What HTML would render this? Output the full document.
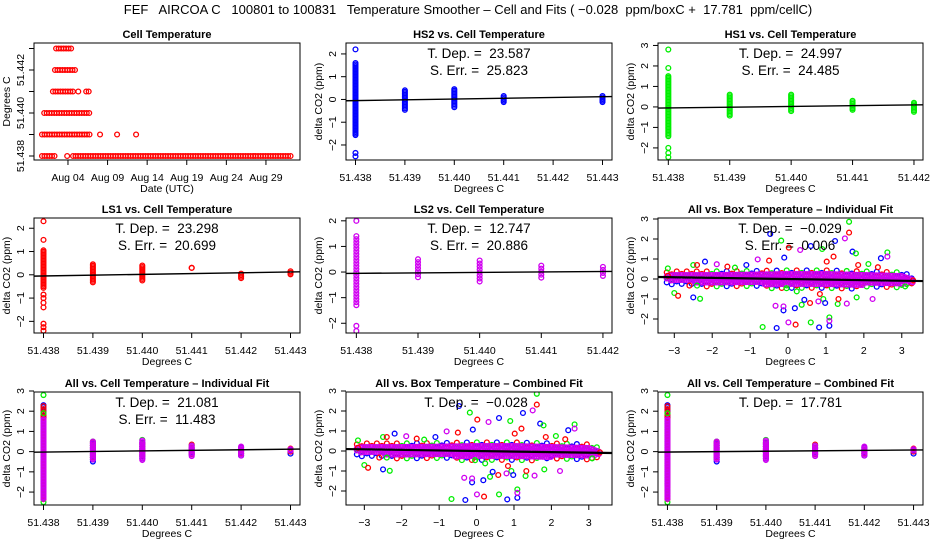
<!DOCTYPE html>
<html><head><meta charset="utf-8">
<style>
html,body{margin:0;padding:0;background:#fff;}
svg{display:block;font-family:"Liberation Sans",sans-serif;}
</style></head>
<body>
<svg id="chart" width="936" height="540" viewBox="0 0 936 540" xmlns="http://www.w3.org/2000/svg">
<rect x="0" y="0" width="936" height="540" fill="#fff"/>
<text x="468" y="14" text-anchor="middle" font-size="13" style="white-space:pre">FEF   AIRCOA C   100801 to 100831   Temperature Smoother – Cell and Fits ( −0.028  ppm/boxC +  17.781  ppm/cellC)</text>
</svg>
<script>
// ---------- DATA ----------
const cellLevels = [51.438, 51.438, 51.439, 51.440, 51.441, 51.441, 51.441, 51.442, 51.443];
const cellStart  = [-0.28, 3.64, -0.28, 0.0, 1.1, 4.3, 5.3, 1.36, 1.5];
const cellEnd    = [1.36, 31.3, 5.78, 5.9, 3.9, 4.3, 5.8, 4.0, 3.64];
const cellSingleDay = [2.9, 7.05, 9.2, 11.6];
const cellSingleVal = [51.438, 51.439, 51.439, 51.439];
const dateTickDays = [3, 8, 13, 18, 23, 28];
const dateTickLabels = ["Aug 04", "Aug 09", "Aug 14", "Aug 19", "Aug 24", "Aug 29"];

const temps6 = [51.438, 51.439, 51.440, 51.441, 51.442, 51.443];
const temps5 = [51.438, 51.439, 51.440, 51.441, 51.442];

const hs2X  = [51.438, 51.439, 51.440, 51.441, 51.443];
const hs2Lo = [-1.6, -0.5, -0.35, -0.15, -0.15];
const hs2Hi = [1.6, 0.4, 0.45, 0.15, 0.15];
const hs2OutX = [51.438, 51.438, 51.438];
const hs2OutY = [2.2, -2.35, -2.5];
const hs2Fit = [-0.05, 0.12];
const hs1X  = [51.438, 51.439, 51.440, 51.441, 51.442];
const hs1Lo = [-1.5, -0.45, -0.25, -0.15, -0.3];
const hs1Hi = [1.5, 0.6, 0.6, 0.3, 0.2];
const hs1OutX = [51.438, 51.438, 51.438, 51.438, 51.438];
const hs1OutY = [2.8, 1.9, -2.0, -2.25, -2.45];
const hs1Fit = [-0.05, 0.1];
const ls1X  = [51.438, 51.439, 51.440, 51.441, 51.442, 51.443];
const ls1Lo = [-0.6, -0.35, -0.25, 0.3, -0.15, 0.0];
const ls1Hi = [1.05, 0.45, 0.4, 0.3, 0.05, 0.15];
const ls1OutX = [51.438, 51.438, 51.438, 51.438, 51.438, 51.438, 51.438, 51.438, 51.438];
const ls1OutY = [2.3, 1.5, -0.85, -1.0, -1.2, -1.4, -2.1, -2.25, -2.4];
const ls1Fit = [-0.05, 0.12];
const ls2X  = [51.438, 51.439, 51.440, 51.441, 51.442];
const ls2Lo = [-1.35, -0.25, -0.45, -0.25, -0.25];
const ls2Hi = [1.4, 0.5, 0.45, 0.25, 0.2];
const ls2OutX = [51.438, 51.438, 51.438];
const ls2OutY = [2.0, -2.1, -2.3];
const ls2Fit = [-0.05, 0.02];
const allX  = [51.438, 51.439, 51.440, 51.441, 51.442, 51.443];
const allLo = [-2.4, -0.45, -0.45, -0.25, -0.25, 0.0];
const allHi = [1.6, 0.5, 0.55, 0.3, 0.25, 0.12];
const allBlueLo = [-1.7, -0.5, -0.4, -0.2, -0.2, -0.15];
const allBlueHi = [2.3, 0.4, 0.45, 0.15, 0.2, 0.1];
const allRedLo  = [-2.4, -0.4, -0.3, -0.15, -0.15, 0.0];
const allRedHi  = [2.25, 0.45, 0.4, 0.35, 0.05, 0.15];
const allGreenX = [51.438, 51.438, 51.438, 51.438, 51.439, 51.440, 51.441];
const allGreenY = [2.8, 1.9, -1.95, -2.5, 0.5, 0.58, 0.3];
const allIndFit = [-0.02, 0.12];
const allCombFit = [-0.02, 0.08];

const bandX  = [-3.2, -3, -2, -1, 0, 1, 2, 3, 3.3];
const bandLo = [0.0, -0.15, -0.2, -0.25, -0.3, -0.3, -0.3, -0.25, -0.2];
const bandHi = [0.15, 0.2, 0.2, 0.22, 0.25, 0.25, 0.2, 0.15, -0.05];
const outX = [-3.17,-3.17,-3,-2.9,-2.5,-2.32,-2.6,-2.4,-2.5,-2.4,-2.19,-1.88,-1.6,-1.4,-1.1,-0.8,-0.5,-0.47,-0.18,-0.1,0.02,0.32,0.6,0.9,1.02,1.24,1.2,1.5,1.61,1.61,1.7,1.79,1.85,2.12,2.45,2.37,2.62,2.62,3.3,3.09,
 -0.33,-0.12,-0.12,0.18,0.36,0.58,0.93,0.98,1.31,1.33,1.55,1.81,2.23,-0.67,-0.3,0.01,0.2,0.6,0.82,1.09,1.09,1.09,-0.04,0.23,0.43,0.84,0.8];
const outY = [0.53,0.16,-0.7,-0.84,-0.92,-0.99,-0.33,-0.33,0.7,0.7,0.87,0.74,0.62,0.57,0.7,0.98,0.92,2.25,1.92,1.07,1.57,1.45,1.65,1.5,0.87,1.9,1.12,2.03,2.86,2.32,1.37,1.28,0.7,0.75,1.04,0.59,1.33,1.12,-0.07,-0.37,
 -1.34,-1.57,-1.37,-1.46,-1.29,-1.2,-1.0,-1.2,-1.25,-1.0,-1.23,-0.92,-1.0,-2.4,-2.45,-2.17,-2.28,-2.17,-2.42,-2.34,-1.92,-2.09,-0.46,-0.62,-1.04,-0.75,-1.12];
const outC = ["g","r","g","r","b","g","r","g","g","r","b","m","r","g","b","m","r","b","g","b","r","m","b","g","r","b","r","m","g","r","b","g","r","g","b","r","g","m","r","g",
 "m","b","m","b","g","r","g","b","g","r","m","g","m","g","b","m","r","g","b","b","g","m","g","g","b","r","m"];
const boxIndSlope = -0.029;
const boxCombSlope = -0.028;

// ---------- RENDER HELPERS ----------
const NS = "http://www.w3.org/2000/svg";
const svg = document.getElementById("chart");
const COL = {r:"#ff0000", g:"#00ee00", b:"#0000ff", m:"#d000f0"};
function mk(tag, attrs, parent){
  const e = document.createElementNS(NS, tag);
  for (const k in attrs) e.setAttribute(k, attrs[k]);
  (parent || svg).appendChild(e);
  return e;
}
function panel(c){
  const g = mk("g", {});
  
  
  const sx = v => c.l + (v - c.x0) / (c.x1 - c.x0) * (c.r - c.l);
  const sy = v => c.b - (v - c.y0) / (c.y1 - c.y0) * (c.b - c.t);
  const clip = mk("clipPath", {id: c.name + "-clip"}, g);
  mk("rect", {x: c.l, y: c.t, width: c.r - c.l, height: c.b - c.t}, clip);
  const plot = mk("g", {"clip-path": "url(#" + c.name + "-clip)"}, g);
  
  
  const frame = mk("rect", {x: c.l, y: c.t, width: c.r - c.l, height: c.b - c.t, fill: "none", stroke: "#000", "stroke-width": 1}, g);
  
  
  const title = mk("text", {x: (c.l + c.r) / 2, y: c.t - 5, "text-anchor": "middle", "font-size": 11, "font-weight": "bold"}, g);
  title.textContent = c.title;
  
  
  c.xticks.forEach((v, i) => {
    const x = sx(v);
    const tk = mk("line", {x1: x, x2: x, y1: c.b, y2: c.b + 5, stroke: "#000"}, g);
    
    
    if (c.xlabels[i] !== "") {
      const t = mk("text", {x: x, y: c.b + 21, "text-anchor": "middle", "font-size": 10.5}, g);
      t.textContent = c.xlabels[i];
      
      
    }
  });
  c.yticks.forEach((v, i) => {
    const y = sy(v);
    const tk = mk("line", {x1: c.l - 5, x2: c.l, y1: y, y2: y, stroke: "#000"}, g);
    
    
    if (c.ylabels[i] !== "") {
      const t = mk("text", {x: 0, y: 0, "text-anchor": "middle", "font-size": 10.5, transform: "translate(" + (c.l - 10) + "," + y + ") rotate(-90)"}, g);
      t.textContent = c.ylabels[i];
      
      
    }
  });
  const xt = mk("text", {x: (c.l + c.r) / 2, y: c.b + 32, "text-anchor": "middle", "font-size": 10.5}, g);
  xt.textContent = c.xlab;
  
  
  const yt = mk("text", {x: 0, y: 0, "text-anchor": "middle", "font-size": 10.5, transform: "translate(" + (c.l - 24) + "," + ((c.t + c.b) / 2) + ") rotate(-90)"}, g);
  yt.textContent = c.ylab;
  
  
  (c.notes || []).forEach((s, i) => {
    const t = mk("text", {x: (c.l + c.r) / 2, y: c.t + 15 + i * 17, "text-anchor": "middle", "font-size": 13.5, style: "white-space:pre"}, g);
    t.textContent = s;
    
    
  });
  return {sx, sy, plot, c};
}
function pt(P, x, y, col){
  const e = mk("circle", {cx: x, cy: y, r: 2.4, fill: "none", stroke: COL[col] || col, "stroke-width": 1.3}, P.plot);
  
  
}
function column(P, xv, lo, hi, col, step){
  const x = P.sx(xv), y1 = P.sy(hi), y2 = P.sy(lo);
  for (let y = y1; y <= y2 + 0.01; y += step) pt(P, x, y, col);
  if (y2 - y1 < 0.5) pt(P, x, y1, col);
}
function fitLine(P, yA, yB, xa, xb, w){
  const e = mk("line", {x1: P.c.l, x2: P.c.r, y1: P.sy(yA + (yB - yA) * (P.c.x0 - xa) / (xb - xa)), y2: P.sy(yA + (yB - yA) * (P.c.x1 - xa) / (xb - xa)), stroke: "#000", "stroke-width": w || 1.4}, P.plot);
  
  
}
const yl = a => a.map(v => v < 0 ? "\u2212" + Math.abs(v) : String(v));
const tl = a => a.map(v => v.toFixed(3));

const BX6 = {x0: 51.437808, x1: 51.443192};
const BX5 = {x0: 51.437832, x1: 51.442147};
const yLab = "delta CO2 (ppm)";

{
  const P = panel({name: "cell-temperature-panel", l: 34, r: 300, t: 43, b: 160, x0: -1.29, x1: 32.3, y0: 51.437814, y1: 51.443256,
    xticks: dateTickDays, xlabels: dateTickLabels,
    yticks: [51.438, 51.439, 51.440, 51.441, 51.442, 51.443], ylabels: ["51.438", "", "51.440", "", "51.442", ""],
    title: "Cell Temperature", xlab: "Date (UTC)", ylab: "Degrees C"});
  cellLevels.forEach((lv, i) => {
    const xa = P.sx(cellStart[i]), xb = P.sx(cellEnd[i]), y = P.sy(lv);
    for (let x = xa; x <= xb + 0.01; x += 2.5) pt(P, x, y, "r");
  });
  cellSingleDay.forEach((d, i) => pt(P, P.sx(d), P.sy(cellSingleVal[i]), "r"));
}
{
  const P = panel(Object.assign({name: "hs2-panel", l: 346, r: 612, t: 43, b: 160, y0: -2.66, y1: 2.48,
    xticks: temps6, xlabels: tl(temps6), yticks: [-2, -1, 0, 1, 2], ylabels: yl([-2, -1, 0, 1, 2]),
    title: "HS2 vs. Cell Temperature", xlab: "Degrees C", ylab: yLab,
    notes: ["T. Dep. =  23.587", "S. Err. =  25.823"]}, BX6));
  hs2X.forEach((x, i) => column(P, x, hs2Lo[i], hs2Hi[i], "b", 1.5));
  hs2OutX.forEach((x, i) => pt(P, P.sx(x), P.sy(hs2OutY[i]), "b"));
  fitLine(P, hs2Fit[0], hs2Fit[1], 51.438, 51.443);
}
{
  const P = panel(Object.assign({name: "hs1-panel", l: 658, r: 923, t: 43, b: 160, y0: -2.59, y1: 3.12,
    xticks: temps5, xlabels: tl(temps5), yticks: [-2, -1, 0, 1, 2, 3], ylabels: yl([-2, -1, 0, 1, 2, 3]),
    title: "HS1 vs. Cell Temperature", xlab: "Degrees C", ylab: yLab,
    notes: ["T. Dep. =  24.997", "S. Err. =  24.485"]}, BX5));
  hs1X.forEach((x, i) => column(P, x, hs1Lo[i], hs1Hi[i], "g", 1.5));
  hs1OutX.forEach((x, i) => pt(P, P.sx(x), P.sy(hs1OutY[i]), "g"));
  fitLine(P, hs1Fit[0], hs1Fit[1], 51.438, 51.442);
}
{
  const P = panel(Object.assign({name: "ls1-panel", l: 34, r: 300, t: 218, b: 333, y0: -2.5, y1: 2.44,
    xticks: temps6, xlabels: tl(temps6), yticks: [-2, -1, 0, 1, 2], ylabels: yl([-2, -1, 0, 1, 2]),
    title: "LS1 vs. Cell Temperature", xlab: "Degrees C", ylab: yLab,
    notes: ["T. Dep. =  23.298", "S. Err. =  20.699"]}, BX6));
  ls1X.forEach((x, i) => column(P, x, ls1Lo[i], ls1Hi[i], "r", 1.5));
  ls1OutX.forEach((x, i) => pt(P, P.sx(x), P.sy(ls1OutY[i]), "r"));
  fitLine(P, ls1Fit[0], ls1Fit[1], 51.438, 51.443);
}
{
  const P = panel(Object.assign({name: "ls2-panel", l: 346, r: 612, t: 218, b: 333, y0: -2.38, y1: 2.11,
    xticks: temps5, xlabels: tl(temps5), yticks: [-2, -1, 0, 1, 2], ylabels: yl([-2, -1, 0, 1, 2]),
    title: "LS2 vs. Cell Temperature", xlab: "Degrees C", ylab: yLab,
    notes: ["T. Dep. =  12.747", "S. Err. =  20.886"]}, BX5));
  ls2X.forEach((x, i) => column(P, x, ls2Lo[i], ls2Hi[i], "m", 3));
  ls2OutX.forEach((x, i) => pt(P, P.sx(x), P.sy(ls2OutY[i]), "m"));
  fitLine(P, ls2Fit[0], ls2Fit[1], 51.438, 51.442);
}
function interp(xs, ys, x){
  if (x <= xs[0]) return ys[0];
  for (let i = 1; i < xs.length; i++) if (x <= xs[i]) return ys[i-1] + (ys[i] - ys[i-1]) * (x - xs[i-1]) / (xs[i] - xs[i-1]);
  return ys[ys.length - 1];
}
function boxScatter(P, slope){
  const cyc = ["r", "g", "b"];
  let k = 0, col = 0;
  for (let px = P.sx(bandX[0]); px <= P.sx(bandX[bandX.length - 1]); px += 5) {
    const xv = bandX[0] + (px - P.sx(bandX[0])) / (P.sx(1) - P.sx(0));
    const lo = interp(bandX, bandLo, xv) - 0.18, hi = interp(bandX, bandHi, xv) + 0.18;
    const off = (col % 2) * 2.5;
    for (let py = P.sy(hi) + off; py <= P.sy(lo); py += 5) { pt(P, px, py, cyc[k % 3]); k++; }
    col++;
  }
  for (let px = P.sx(bandX[0]); px <= P.sx(bandX[bandX.length - 1]); px += 2) {
    const xv = bandX[0] + (px - P.sx(bandX[0])) / (P.sx(1) - P.sx(0));
    const lo = interp(bandX, bandLo, xv), hi = interp(bandX, bandHi, xv);
    for (let py = P.sy(hi); py <= P.sy(lo); py += 2.5) pt(P, px, py, "m");
  }
  outX.forEach((x, i) => pt(P, P.sx(x), P.sy(outY[i]), outC[i]));
  fitLine(P, -3 * slope, 3 * slope, -3, 3, 2.2);
}
{
  const P = panel({name: "box-individual-panel", l: 658, r: 923, t: 218, b: 333, x0: -3.43, x1: 3.56, y0: -2.7, y1: 3.05,
    xticks: [-3, -2, -1, 0, 1, 2, 3], xlabels: yl([-3, -2, -1, 0, 1, 2, 3]), yticks: [-2, -1, 0, 1, 2, 3], ylabels: yl([-2, -1, 0, 1, 2, 3]),
    title: "All vs. Box Temperature \u2013 Individual Fit", xlab: "Degrees C", ylab: yLab, notes: []});
  boxScatter(P, boxIndSlope);
  ["T. Dep. =  \u22120.029", "S. Err. =  0.006"].forEach((s, i) => {
    const t = mk("text", {x: 790, y: 233 + i * 17, "text-anchor": "middle", "font-size": 13.5, style: "white-space:pre"});
    t.textContent = s;
    
    
  });
}
{
  const P = panel({name: "box-combined-panel", l: 346, r: 612, t: 392, b: 505, x0: -3.49, x1: 3.62, y0: -2.7, y1: 2.95,
    xticks: [-3, -2, -1, 0, 1, 2, 3], xlabels: yl([-3, -2, -1, 0, 1, 2, 3]), yticks: [-2, -1, 0, 1, 2, 3], ylabels: yl([-2, -1, 0, 1, 2, 3]),
    title: "All vs. Box Temperature \u2013 Combined Fit", xlab: "Degrees C", ylab: yLab, notes: []});
  boxScatter(P, boxCombSlope);
  const t = mk("text", {x: 476, y: 407, "text-anchor": "middle", "font-size": 13.5, style: "white-space:pre"});
  t.textContent = "T. Dep. =  \u22120.028";
  
  
}
function allCell(P, fit){
  allX.forEach((x, i) => column(P, x, allBlueLo[i], allBlueHi[i], "b", 2));
  allX.forEach((x, i) => column(P, x, allRedLo[i], allRedHi[i], "r", 3));
  allGreenX.forEach((x, i) => pt(P, P.sx(x), P.sy(allGreenY[i]), "g"));
  allX.forEach((x, i) => column(P, x, allLo[i], allHi[i], "m", 1.5));
  fitLine(P, fit[0], fit[1], 51.438, 51.443);
}
{
  const P = panel(Object.assign({name: "all-cell-individual-panel", l: 34, r: 300, t: 392, b: 505, y0: -2.64, y1: 2.95,
    xticks: temps6, xlabels: tl(temps6), yticks: [-2, -1, 0, 1, 2, 3], ylabels: yl([-2, -1, 0, 1, 2, 3]),
    title: "All vs. Cell Temperature \u2013 Individual Fit", xlab: "Degrees C", ylab: yLab,
    notes: ["T. Dep. =  21.081", "S. Err. =  11.483"]}, BX6));
  allCell(P, allIndFit);
}
{
  const P = panel(Object.assign({name: "all-cell-combined-panel", l: 658, r: 923, t: 392, b: 505, y0: -2.64, y1: 2.95,
    xticks: temps6, xlabels: tl(temps6), yticks: [-2, -1, 0, 1, 2, 3], ylabels: yl([-2, -1, 0, 1, 2, 3]),
    title: "All vs. Cell Temperature \u2013 Combined Fit", xlab: "Degrees C", ylab: yLab,
    notes: ["T. Dep. =  17.781"]}, BX6));
  allCell(P, allCombFit);
}
</script>
</body></html>
